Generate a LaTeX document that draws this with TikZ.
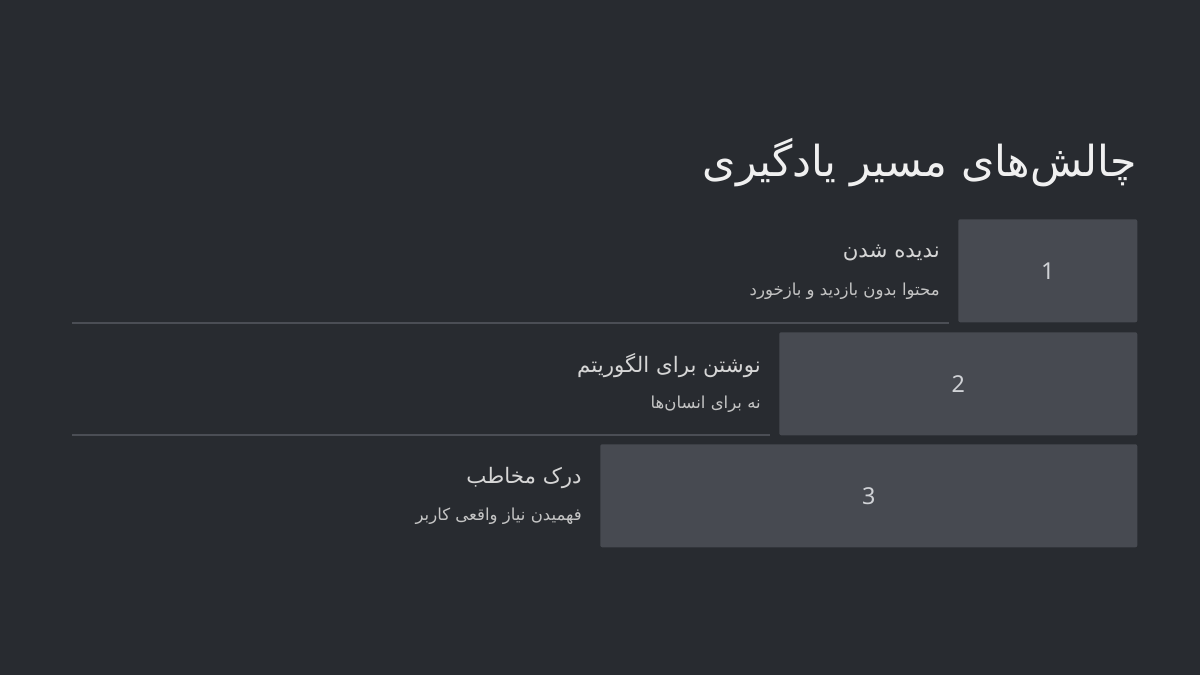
\documentclass[tikz,border=0pt]{standalone}
\usepackage{fontspec}
\setmainfont{DejaVu Sans}
\newfontfamily\arabicfont[Script=Arabic]{DejaVu Sans}
\newfontfamily\numfont{Noto Sans}
\TeXXeTstate=1
\definecolor{bgc}{HTML}{282B30}
\definecolor{boxc}{HTML}{474A51}
\definecolor{linec}{HTML}{4B4E55}
\definecolor{titlec}{HTML}{F0F0F0}
\definecolor{headc}{HTML}{D6D6D6}
\definecolor{subc}{HTML}{C4C4C4}
\definecolor{numc}{HTML}{D0D2D6}
\tikzset{
  numbox/.style={fill=boxc, rounded corners=1.5pt, anchor=north west, minimum height=77.25pt, inner sep=0pt, font=\numfont\fontsize{17.5}{21}\selectfont, text=numc},
  head/.style={anchor=east, inner sep=0pt, text=headc, font=\arabicfont\fontsize{16}{19}\selectfont},
  sub/.style={anchor=east, inner sep=0pt, text=subc, font=\arabicfont\fontsize{12.4}{15}\selectfont},
  sep/.style={draw=linec, line width=1.5pt},
}
\begin{document}
\begin{tikzpicture}[x=0.75pt,y=-0.75pt]
\fill[bgc] (0,0) rectangle (1200,675);
\useasboundingbox (0,0) rectangle (1200,675);
\node[anchor=east, inner sep=0pt, text=titlec, font=\arabicfont\fontsize{32}{38}\selectfont] (title) at (1137,163) {\beginR چالش‌های مسیر یادگیری\endR};
% row 1
\node[numbox, minimum width=134.25pt] (b1) at (958,219) {1};
\node[head] (h1) at (940,253) {\beginR ندیده شدن\endR};
\node[sub] (s1) at (940,291) {\beginR محتوا بدون بازدید و بازخورد\endR};
\coordinate (l1a) at (72,323);
\coordinate (l1b) at (949,323);
\draw[sep] (l1a) -- (l1b);
% row 2
\node[numbox, minimum width=268.5pt] (b2) at (779,332) {2};
\node[head] (h2) at (761,366) {\beginR نوشتن برای الگوریتم\endR};
\node[sub] (s2) at (761,404) {\beginR نه برای انسان‌ها\endR};
\coordinate (l2a) at (72,435);
\coordinate (l2b) at (770,435);
\draw[sep] (l2a) -- (l2b);
% row 3
\node[numbox, minimum width=402.75pt] (b3) at (600,444) {3};
\node[head] (h3) at (582,478) {\beginR درک مخاطب\endR};
\node[sub] (s3) at (582,516) {\beginR فهمیدن نیاز واقعی کاربر\endR};
\end{tikzpicture}
\end{document}
